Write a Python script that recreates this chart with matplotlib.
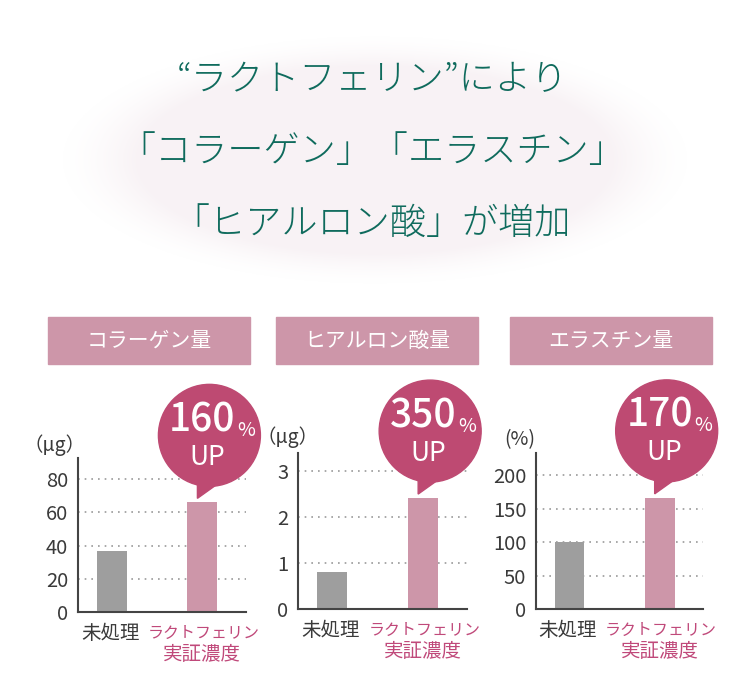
import numpy as np
import matplotlib
matplotlib.use("Agg")
import matplotlib.pyplot as plt
from matplotlib.patches import Rectangle, Circle, Polygon

plt.rcParams['font.family'] = ['Noto Sans CJK JP', 'DejaVu Sans']

# data
title_lines = ["“ラクトフェリン”により", "「コラーゲン」「エラスチン」", "「ヒアルロン酸」が増加"]
panel_titles = ["コラーゲン量", "ヒアルロン酸量", "エラスチン量"]
units = ["（μg）", "（μg）", "(%)"]
cat_plain = "未処理"
cat_line1 = "ラクトフェリン"
cat_line2 = "実証濃度"
collagen = [37, 66]
hyaluronic = [0.8, 2.41]
elastin = [100, 166]
badges = ["160", "350", "170"]
yticks = [[0, 20, 40, 60, 80], [0, 1, 2, 3], [0, 50, 100, 150, 200]]
ytops = [92.7, 3.39, 233]

teal = "#0f6b5d"
pink_bar = "#cd96a9"
grey_bar = "#9e9e9e"
bubble_col = "#be4a72"
label_pink = "#c0497a"
dark = "#3a3a3a"

W, H = 750, 680
fig = plt.figure(figsize=(7.5, 6.8), dpi=100)

# overlay in pixel coords
bg = fig.add_axes([0, 0, 1, 1], zorder=0)
bg.set_xlim(0, W)
bg.set_ylim(H, 0)
bg.axis('off')

# faint glow behind the title
gx = np.linspace(0, W, 376)
gy = np.linspace(0, 300, 151)
X, Y = np.meshgrid(gx, gy)
d = np.sqrt(((X - 375) / 315) ** 2 + ((Y - 160) / 125) ** 2)
alpha = np.clip((1.0 - d) / 0.25, 0, 1) ** 1.5
glow = np.zeros(X.shape + (4,))
glow[..., 0] = 0.975
glow[..., 1] = 0.952
glow[..., 2] = 0.962
glow[..., 3] = alpha
bg.imshow(glow, extent=[0, W, 300, 0], interpolation='bilinear', aspect='auto', zorder=0)

for i, line in enumerate(title_lines):
    bg.text(372, 80 + i * 72, line, ha='center', va='center', color=teal,
            fontsize=26, fontweight='light')

# header boxes
box_x = [48, 276, 510]
for bx, t in zip(box_x, panel_titles):
    bg.add_patch(Rectangle((bx, 317), 202, 47, color=pink_bar, zorder=1))
    bg.text(bx + 101, 341, t, ha='center', va='center', color='white', fontsize=15, zorder=2)

# chart axes (pixel bounds: left, right, bottom, top)
bounds = [(78, 246, 612, 458), (298, 467, 609, 453), (536, 703, 609, 453)]
unit_pos = [(-0.14, 1.085), (-0.06, 1.10), (-0.10, 1.085)]
series = [collagen, hyaluronic, elastin]

for k, (l, r, b, t) in enumerate(bounds):
    ax = fig.add_axes([l / W, (H - b) / H, (r - l) / W, (b - t) / H], zorder=2)
    vals = series[k]
    ax.bar([0, 1], vals, width=0.33, color=[grey_bar, pink_bar], zorder=2)
    ax.set_xlim(-0.37, 1.48)
    ax.set_ylim(0, ytops[k])
    ax.set_yticks(yticks[k])
    for v in yticks[k][1:]:
        ax.axhline(v, color='#999999', lw=1.2, ls=(0, (1, 3)), zorder=1)
    ax.tick_params(axis='y', length=0, pad=7, labelsize=14.5, labelcolor=dark)
    ax.set_xticks([])
    for s in ['top', 'right']:
        ax.spines[s].set_visible(False)
    for s in ['left', 'bottom']:
        ax.spines[s].set_color('#444444')
        ax.spines[s].set_linewidth(1.5)
    ax.set_facecolor('none')
    ax.text(unit_pos[k][0], unit_pos[k][1], units[k], transform=ax.transAxes,
            ha='center', va='center', fontsize=14, color=dark)

    # category labels under the bars
    ax.annotate(cat_plain, xy=(0, 0), xycoords=('data', 'axes fraction'),
                xytext=(-1, -15.5), textcoords='offset points',
                ha='center', va='center', fontsize=14, color=dark)
    ax.annotate(cat_line1, xy=(1, 0), xycoords=('data', 'axes fraction'),
                xytext=(1, -15.5), textcoords='offset points',
                ha='center', va='center', fontsize=11.5, color=label_pink)
    ax.annotate(cat_line2, xy=(1, 0), xycoords=('data', 'axes fraction'),
                xytext=(0, -30.5), textcoords='offset points',
                ha='center', va='center', fontsize=14, color=label_pink)

    # speech bubble anchored to the top of the second bar
    px, py = ax.transData.transform((1, vals[1]))
    bx, by = px, H - py
    cx, cy = bx + 7, by - 67
    rad = 51
    bg.add_patch(Circle((cx, cy), rad, color=bubble_col, zorder=3))
    bg.add_patch(Polygon([(cx - 12, cy + 38), (cx + 9, cy + 48), (cx - 12, cy + 63)],
                         closed=True, color=bubble_col, zorder=3))
    bg.text(cx - 7, cy - 15, badges[k], ha='center', va='center', color='white',
            fontsize=28, fontweight='medium', zorder=4)
    bg.text(cx + 37, cy - 5, "%", ha='center', va='center', color='white',
            fontsize=14, zorder=4)
    bg.text(cx - 2, cy + 22, "UP", ha='center', va='center', color='white',
            fontsize=19, zorder=4)

bg.set_zorder(3)
bg.patch.set_visible(False)

fig.savefig("out.png", dpi=100)
